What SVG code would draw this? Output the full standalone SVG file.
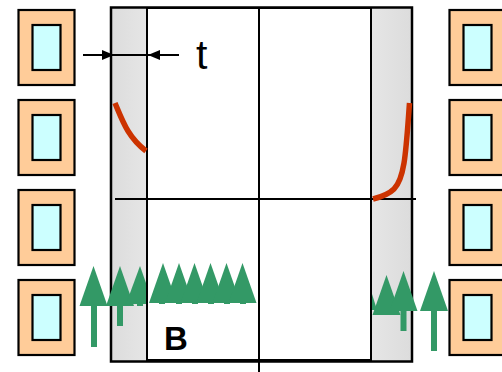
<svg xmlns="http://www.w3.org/2000/svg" width="502" height="372" viewBox="0 0 502 372">
<style>
.o{fill:#ffcc99;stroke:#000;stroke-width:2.2}
.i{fill:#ccffff;stroke:#000;stroke-width:2.2}
.l{stroke:#000;stroke-width:2;fill:none}
.r{stroke:#cc3300;stroke-width:5.500;fill:none}
.g{fill:#339966}
</style>
<defs>
<linearGradient id="w1"><stop offset="0" stop-color="#dcdcdc"/><stop offset="1" stop-color="#e6e6e6"/></linearGradient>
<linearGradient id="w2"><stop offset="0" stop-color="#e6e6e6"/><stop offset="1" stop-color="#dcdcdc"/></linearGradient>
<marker id="a" markerUnits="userSpaceOnUse" markerWidth="12" markerHeight="10" refX="12" refY="5" orient="auto"><path d="M0 0L12 5L0 10Z" fill="#000"/></marker>
<g id="c"><rect class="o" x="0" y="0" width="56" height="75"/><rect class="i" x="14" y="15" width="28" height="45"/></g>
<g id="t"><path class="g" d="M-14 40L0 0L14 40Z"/></g>
</defs>
<rect width="502" height="372" fill="#fff"/>
<g id="wall"><rect x="111" y="7" width="36" height="354" fill="url(#w1)"/><rect x="370" y="7" width="42" height="354" fill="url(#w2)"/><rect x="147" y="8" width="224" height="352" fill="#fff" stroke="#000" stroke-width="2"/><rect x="111" y="7.500" width="301" height="354" fill="none" stroke="#000" stroke-width="2.500"/></g>
<g id="coils-left">
<use href="#c" x="18.500" y="10"/><use href="#c" x="18.500" y="100"/><use href="#c" x="18.500" y="190"/><use href="#c" x="18.500" y="280"/>
</g>
<g id="coils-right">
<use href="#c" x="449.500" y="10"/><use href="#c" x="449.500" y="100"/><use href="#c" x="449.500" y="190"/><use href="#c" x="449.500" y="280"/>
</g>
<g id="connectors">
<path class="l" d="M259 7V372M115 199H416"/>
<path class="l" d="M83 55H114" marker-end="url(#a)"/><path class="l" d="M179 55H148" marker-end="url(#a)"/><path class="l" d="M114 55H148"/>
<path class="r" d="M115 103C123 122 128 137 146 151"/>
<path class="r" d="M409.500 103C406 150 405 178 394 189C388 195 381 197 373 199"/>
</g>
<g id="arrows" class="g">
<rect x="91" y="300" width="6" height="47"/><use href="#t" x="93.500" y="266"/>
<rect x="117" y="300" width="6" height="26"/><use href="#t" x="120" y="266"/>
<rect x="137" y="300" width="6" height="6"/><path d="M140 266L146 283V304H126Z"/>
<rect x="159" y="300" width="6" height="4"/><rect x="176" y="300" width="6" height="4"/><rect x="192" y="300" width="6" height="4"/><rect x="208" y="300" width="6" height="4"/><rect x="224" y="300" width="6" height="4"/><rect x="240" y="300" width="6" height="4"/>
<use href="#t" x="163" y="263"/><use href="#t" x="179" y="263"/><use href="#t" x="194.500" y="263"/><use href="#t" x="210.500" y="263"/><use href="#t" x="226.500" y="263"/><use href="#t" x="242.500" y="263"/>
<path d="M372 294L377 310H372Z"/>
<use href="#t" x="386.500" y="275"/>
<rect x="400.500" y="305" width="6" height="26"/><use href="#t" x="403.500" y="271"/>
<rect x="431" y="305" width="6" height="46"/><use href="#t" x="434" y="271"/>
</g>
<text x="196" y="68.500" font-family="Liberation Sans, sans-serif" font-size="41">t</text>
<text x="164" y="350" font-family="Liberation Sans, sans-serif" font-size="33" font-weight="bold">B</text>
</svg>
